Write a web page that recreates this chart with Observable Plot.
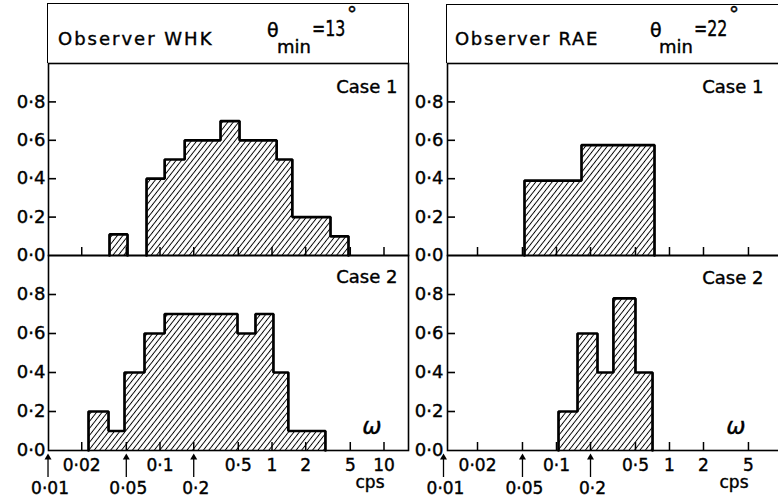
<!DOCTYPE html>
<html>
<head>
<meta charset="utf-8">
<script src="https://cdn.jsdelivr.net/npm/d3@7"></script>
<script src="https://cdn.jsdelivr.net/npm/@observablehq/plot@0.6"></script>
<style>
  html, body { margin: 0; padding: 0; background: #fff; }
  #stage { position: relative; width: 778px; height: 504px; overflow: hidden; background: #fff;
           font-family: "DejaVu Sans", sans-serif; color: #000; }
  .abs { position: absolute; white-space: nowrap; line-height: 1; -webkit-text-stroke: 0.4px #000; }
  .cond { transform: scaleX(0.72); transform-origin: 0 0; }
  .box { position: absolute; box-sizing: border-box; border: 1.6px solid #000; border-bottom: none; }
  #stage svg text { stroke: #000; stroke-width: 0.4px; }
</style>
</head>
<body>
<svg width="0" height="0" style="position:absolute">
  <defs>
    <pattern id="hatch" patternUnits="userSpaceOnUse" width="4.3" height="4.3" patternTransform="rotate(38)">
      <line x1="2.15" y1="-1" x2="2.15" y2="5.3" stroke="#000" stroke-width="0.95"/>
    </pattern>
  </defs>
</svg>
<div id="stage">
  <div class="box" style="left:47.2px; top:3.2px; width:361.6px; height:60px;"></div>
  <div class="box" style="left:446.2px; top:4.2px; width:400px; height:59px;"></div>
  <span class="abs" style="left:58px; top:29.8px; font-size:18px; letter-spacing:2px;">Observer WHK</span>
  <span class="abs" style="left:267px; top:20.9px; font-size:19px;">θ</span>
  <span class="abs" style="left:277px; top:37.8px; font-size:18px;">min</span>
  <span class="abs cond" style="left:312px; top:18.4px; font-size:22px;">=13</span>
  <span class="abs" style="left:347px; top:4px; font-size:20px;">°</span>
  <span class="abs" style="left:455px; top:29.8px; font-size:18px; letter-spacing:1.7px;">Observer RAE</span>
  <span class="abs" style="left:650px; top:20.9px; font-size:19px;">θ</span>
  <span class="abs" style="left:659px; top:37.8px; font-size:18px;">min</span>
  <span class="abs cond" style="left:694px; top:18.4px; font-size:22px;">=22</span>
  <span class="abs" style="left:729px; top:4px; font-size:20px;">°</span>
</div>
<script>
// ---------- data ----------
const xTicks = [0.02, 0.05, 0.1, 0.2, 0.5, 1, 2, 5, 10];
const yTicks = [0, 0.2, 0.4, 0.6, 0.8];
const yInnerTicks = [0.2, 0.4, 0.6, 0.8];
const leftRow1 = [0.02, 0.1, 0.5, 1, 2, 5, 10];
const rightRow1 = [0.02, 0.1, 0.5, 1, 2, 5];
const arrowRow = [0.01, 0.05, 0.2];
const caseLabels = ["Case 1", "Case 2"];

// Observer WHK, Case 1
const whk1Lo = [0.0354, 0.0758, 0.110, 0.166, 0.347, 0.513, 1.10, 1.52, 3.33];
const whk1Hi = [0.0513, 0.110, 0.166, 0.347, 0.513, 1.10, 1.52, 3.33, 4.82];
const whk1H  = [0.11, 0.4, 0.5, 0.6, 0.7, 0.6, 0.5, 0.2, 0.1];
// Observer WHK, Case 2
const whk2Lo = [0.0230, 0.0347, 0.0482, 0.0727, 0.110, 0.492, 0.712, 1.03, 1.40];
const whk2Hi = [0.0347, 0.0482, 0.0727, 0.110, 0.492, 0.712, 1.03, 1.40, 3.0];
const whk2H  = [0.2, 0.1, 0.4, 0.6, 0.7, 0.6, 0.7, 0.4, 0.1];
// Observer RAE, Case 1
const rae1Lo = [0.0521, 0.1665];
const rae1Hi = [0.1665, 0.737];
const rae1H  = [0.39, 0.575];
// Observer RAE, Case 2
const rae2Lo = [0.1042, 0.1535, 0.2306, 0.319, 0.500];
const rae2Hi = [0.1535, 0.2306, 0.319, 0.500, 0.708];
const rae2H  = [0.2, 0.6, 0.4, 0.78, 0.4];

// ---------- helpers ----------
const fmtX = d => String(d).replace(".", "·");
const fmtY = d => d.toFixed(1).replace(".", "·");

function binsOf(lo, hi, h) { return lo.map((l, i) => ({lo: l, hi: hi[i], h: h[i]})); }
function outlineOf(lo, hi, h) {
  const pts = []; let g = 0;
  for (let i = 0; i < lo.length; i++) {
    if (i === 0 || lo[i] !== hi[i - 1]) {
      if (i > 0) { pts.push({x: hi[i - 1], y: 0, g}); g++; }
      pts.push({x: lo[i], y: 0, g});
    }
    pts.push({x: lo[i], y: h[i], g}, {x: hi[i], y: h[i], g});
  }
  pts.push({x: hi[hi.length - 1], y: 0, g});
  return pts;
}

const stage = document.getElementById("stage");

function panel(cfg) {
  const frameW = cfg.width - cfg.mL - cfg.mR;
  const marks = [
    Plot.rect(binsOf(cfg.lo, cfg.hi, cfg.h), {x1: "lo", x2: "hi", y1: 0, y2: "h", fill: "url(#hatch)"}),
    Plot.frame({stroke: "#000", strokeWidth: 1.6}),
    Plot.ruleY(yInnerTicks, {y: d => d, insetRight: frameW - 8, stroke: "#000", strokeWidth: 1.6}),
    Plot.ruleX(xTicks, {x: d => d, insetTop: cfg.frameH - 8, stroke: "#000", strokeWidth: 1.5}),
    Plot.line(outlineOf(cfg.lo, cfg.hi, cfg.h), {x: "x", y: "y", z: "g", stroke: "#000", strokeWidth: 2.7, strokeLinejoin: "miter"}),
    Plot.text([cfg.caseLabel], {text: d => d, frameAnchor: "top-right", dx: cfg.caseDx, dy: cfg.caseDy,
      textAnchor: "end", lineAnchor: "bottom", fontSize: 18, fill: "#000"})
  ];
  if (cfg.bottom) {
    marks.push(
      Plot.text(cfg.row1, {x: d => d, text: fmtX, frameAnchor: "bottom", dy: 20, lineAnchor: "bottom", fontSize: 17, fill: "#000"}),
      Plot.text(arrowRow, {x: d => d, text: fmtX, frameAnchor: "bottom", dy: 43, dx: 2, lineAnchor: "bottom", fontSize: 17, fill: "#000"}),
      Plot.ruleX(arrowRow, {x: d => d, insetTop: cfg.frameH + 6, insetBottom: -27, stroke: "#000", strokeWidth: 1.3}),
      Plot.dot(arrowRow, {x: d => d, frameAnchor: "bottom", dy: 7, symbol: "triangle", r: 2.6, fill: "#000", stroke: "none"}),
      Plot.text(["ω"], {text: d => d, frameAnchor: "bottom-right", dx: cfg.omegaDx, dy: -17, lineAnchor: "bottom",
        fontSize: 23, fontStyle: "italic", fill: "#000"}),
      Plot.text(["cps"], {text: d => d, frameAnchor: "bottom-right", dx: cfg.cpsDx, dy: 37, lineAnchor: "bottom", fontSize: 17, fill: "#000"})
    );
  }
  const el = Plot.plot({
    width: cfg.width,
    height: cfg.mT + cfg.frameH + cfg.mB,
    marginLeft: cfg.mL, marginRight: cfg.mR, marginTop: cfg.mT, marginBottom: cfg.mB,
    x: {type: "log", domain: cfg.domain, axis: null},
    y: {domain: [0, 1], ticks: yTicks, tickFormat: fmtY, tickSize: 0, tickPadding: cfg.tickPad, label: null},
    style: {background: "transparent", fontFamily: "DejaVu Sans, sans-serif", fontSize: "18px", color: "#000"},
    marks
  });
  el.style.position = "absolute";
  el.style.left = "0px";
  el.style.top = cfg.top + "px";
  el.style.maxWidth = "none";
  el.style.overflow = "visible";
  el.style.background = "transparent";
  stage.appendChild(el);
}

const L = {width: 420, mL: 48, mR: 12, domain: [0.0101, 16.55], tickPad: 3, caseDx: -11, omegaDx: -27, cpsDx: -24, row1: leftRow1};
const R = {width: 830, mL: 447, mR: 20, domain: [0.01085, 17.7], tickPad: 4, caseDx: -47, omegaDx: -65, cpsDx: -62, row1: rightRow1};

panel({...L, top: 61, mT: 2, mB: 2, frameH: 192, lo: whk1Lo, hi: whk1Hi, h: whk1H, caseLabel: caseLabels[0], caseDy: 29, bottom: false});
panel({...L, top: 253, mT: 2, mB: 51, frameH: 195, lo: whk2Lo, hi: whk2Hi, h: whk2H, caseLabel: caseLabels[1], caseDy: 27, bottom: true});
panel({...R, top: 61, mT: 2, mB: 2, frameH: 192, lo: rae1Lo, hi: rae1Hi, h: rae1H, caseLabel: caseLabels[0], caseDy: 29, bottom: false});
panel({...R, top: 253, mT: 2, mB: 51, frameH: 195, lo: rae2Lo, hi: rae2Hi, h: rae2H, caseLabel: caseLabels[1], caseDy: 28, bottom: true});
</script>
</body>
</html>
